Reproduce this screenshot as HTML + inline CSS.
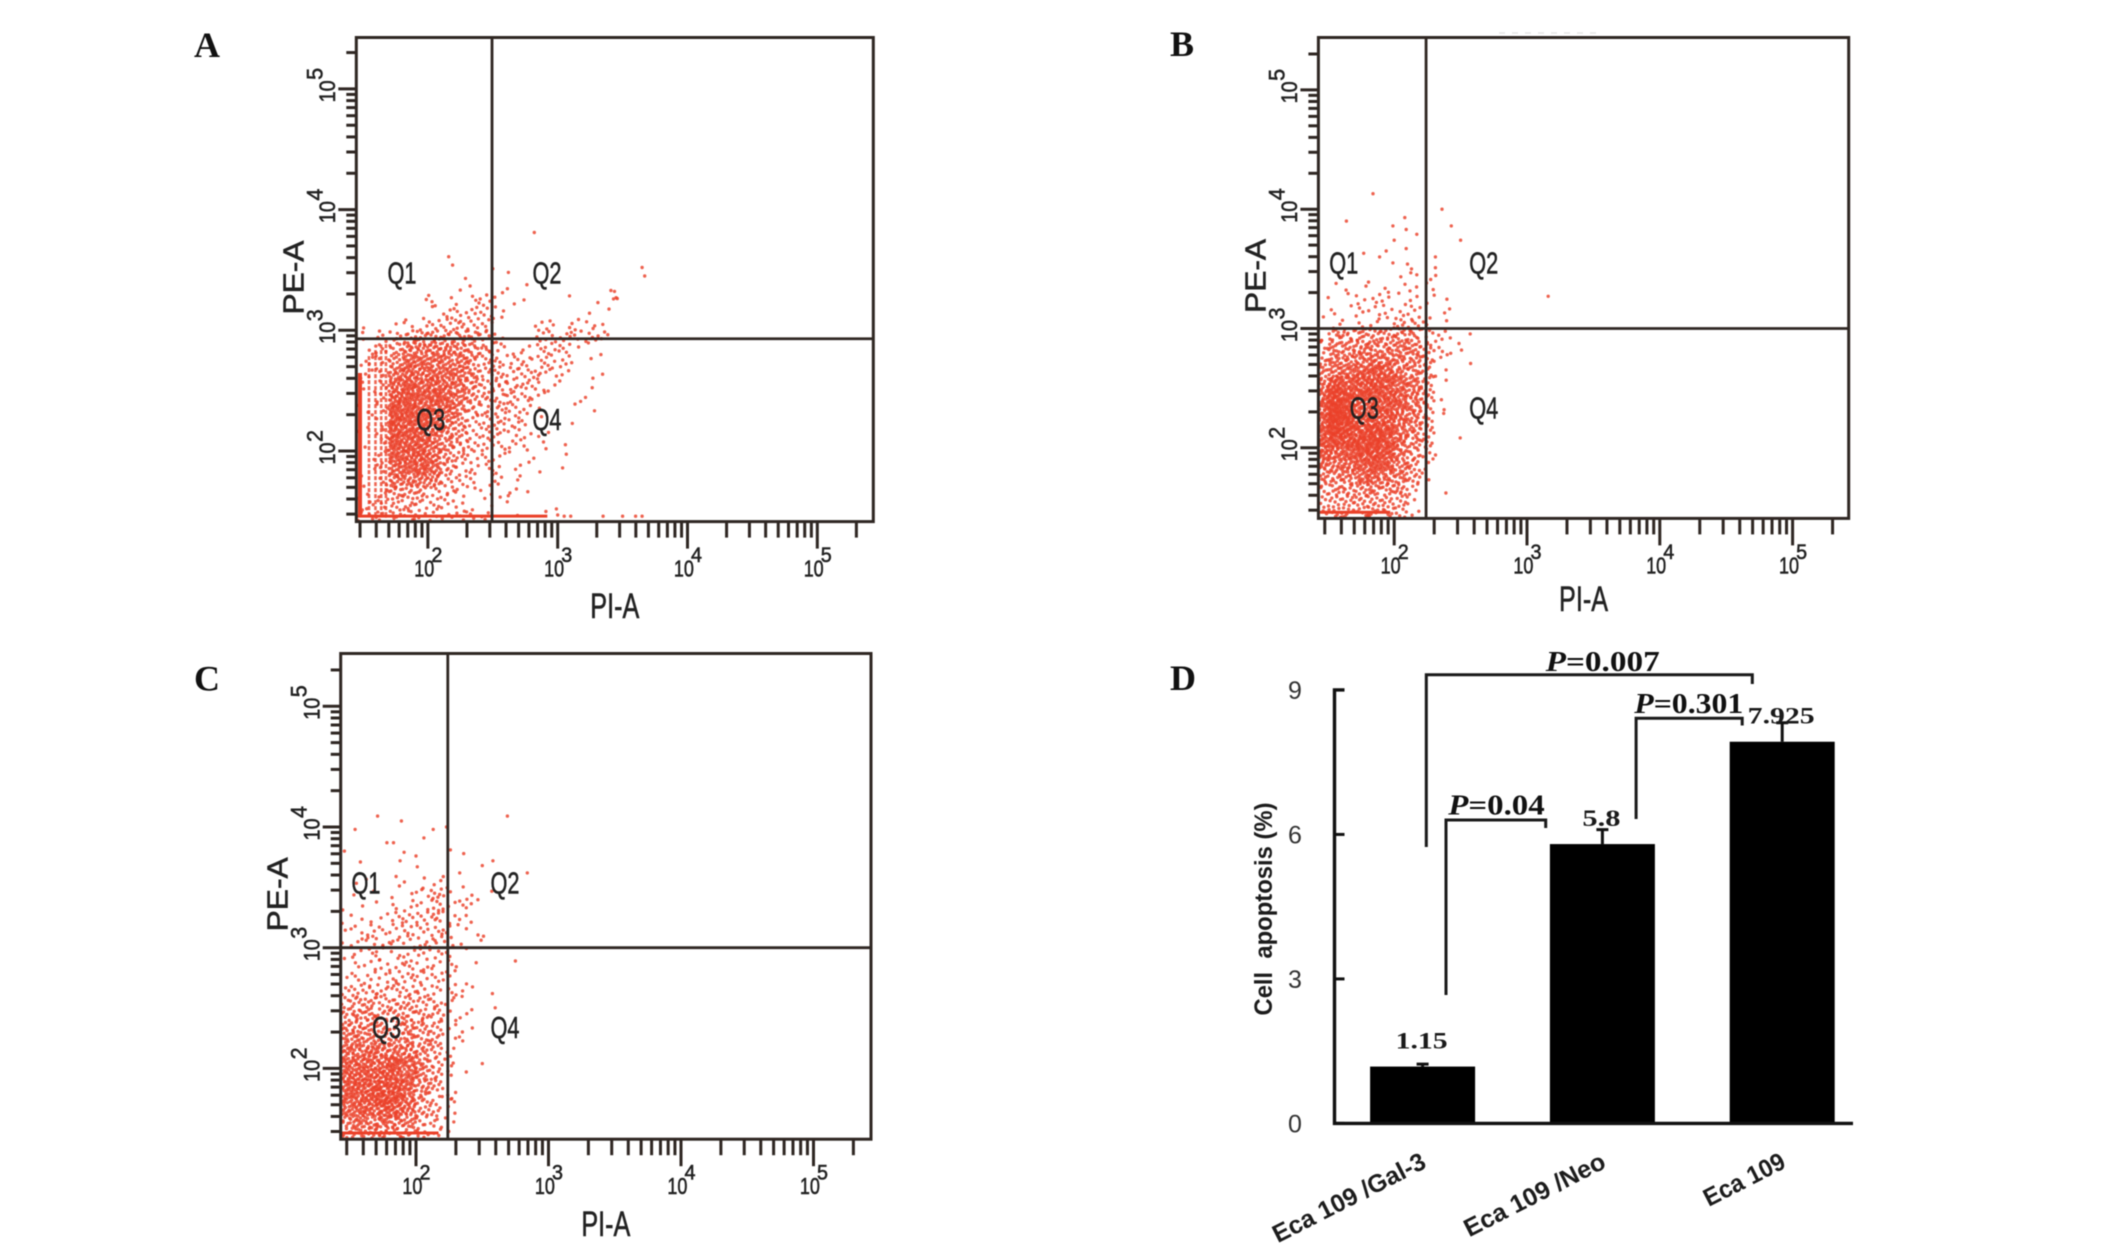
<!DOCTYPE html>
<html>
<head>
<meta charset="utf-8">
<title>Flow cytometry apoptosis panels</title>
<style>
html,body{margin:0;padding:0;background:#fff;}
svg{display:block;filter:blur(0.5px);}
text{font-family:"Liberation Sans",sans-serif;}
.serif{font-family:"Liberation Serif",serif;font-weight:bold;fill:#111;}
.ink{stroke:#222;stroke-width:0.55px;}
</style>
</head>
<body>
<svg id="figure" xmlns="http://www.w3.org/2000/svg" width="2126" height="1244" viewBox="0 0 2126 1244">
  <rect x="0" y="0" width="2126" height="1244" fill="#fff"/>
  <line x1="1499" x2="1598" y1="33" y2="33" stroke="#e6e6e6" stroke-width="1.5" stroke-dasharray="6 7"/>
  <text class="serif" x="207" y="57" font-size="36" text-anchor="middle">A</text>
  <text class="serif" x="1182" y="56" font-size="36" text-anchor="middle">B</text>
  <text class="serif" x="207" y="690.5" font-size="36" text-anchor="middle">C</text>
  <text class="serif" x="1183" y="690" font-size="36" text-anchor="middle">D</text>
  <g id="panels"></g>
  <g id="bars"></g>
  <g fill="none" stroke="#1a1a1a" stroke-width="3">
    <path d="M1426.3 847V674.7H1752.3V684"/>
    <path d="M1636.1 819V718.2H1742.2V725.5"/>
    <path d="M1446 995V820H1545.7V828"/>
  </g>
  <text class="serif" x="1545.7" y="671" font-size="29" textLength="114" lengthAdjust="spacingAndGlyphs"><tspan font-style="italic">P</tspan>=0.007</text>
  <text class="serif" x="1634.3" y="713.2" font-size="29" textLength="109" lengthAdjust="spacingAndGlyphs"><tspan font-style="italic">P</tspan>=0.301</text>
  <text class="serif" x="1448.3" y="814.5" font-size="29" textLength="96.4" lengthAdjust="spacingAndGlyphs"><tspan font-style="italic">P</tspan>=0.04</text>
</svg>
<script>
// ---- shared tick values for the log axes ----
const logTickValues = [30,40,50,60,70,80,90,100,200,300,400,500,600,700,800,900,1000,2000,3000,4000,5000,6000,7000,8000,9000,10000,20000,30000,40000,50000,60000,70000,80000,90000,100000,200000];
const decadeLabels = [2,3,4,5];
const quadrantNames = ['Q1','Q2','Q3','Q4'];

// ---- panel A: binned event counts (rows high to low PE-A, columns low to high PI-A) ----
const panelAGrid = [
[0,0,0,0,0,0,0,0,1,1,0,1,1,1,0,0,0,0,0,0,1,0,0],
[0,0,0,0,0,1,2,1,1,2,3,1,1,1,0,0,1,0,0,1,1,0,0],
[0,0,0,0,0,0,1,3,3,3,3,2,0,0,0,0,0,0,1,1,0,0,0],
[0,1,0,1,2,2,3,4,5,4,3,1,0,0,2,2,1,2,2,1,0,0,0],
[1,1,3,4,5,7,7,7,7,6,5,2,0,0,2,3,3,3,3,3,0,0,0],
[1,2,3,6,11,12,13,11,10,7,6,3,1,2,2,3,4,1,1,0,0,0,0],
[1,2,3,8,15,14,13,12,12,8,5,4,3,3,3,3,2,1,1,1,0,0,0],
[1,2,3,12,17,15,15,15,13,9,5,5,4,4,4,3,2,0,1,1,0,0,0],
[1,1,2,16,18,16,18,15,13,8,5,5,5,4,4,1,1,0,1,0,0,0,0],
[1,1,2,20,19,18,20,17,11,8,5,5,5,3,2,1,0,1,1,0,0,0,0],
[1,1,2,22,20,18,18,15,10,6,4,5,4,3,1,0,0,1,1,0,0,0,0],
[1,1,2,22,20,20,16,12,7,5,4,5,3,2,1,0,0,1,0,0,0,0,0],
[1,1,2,22,19,18,14,10,6,4,4,4,2,2,1,1,0,0,0,0,0,0,0],
[1,1,2,20,18,18,14,9,6,4,3,3,2,2,1,1,1,0,0,0,0,0,0],
[1,1,2,18,18,20,15,7,5,3,2,2,1,1,1,0,1,0,0,0,0,0,0],
[1,1,2,16,16,18,14,6,4,3,2,2,1,1,1,0,1,0,0,0,0,0,0],
[1,1,2,12,12,12,10,5,3,2,1,2,1,1,0,0,0,0,0,0,0,0,0],
[1,1,2,8,7,6,4,3,2,1,2,1,2,1,0,0,0,0,0,0,0,0,0],
[2,2,3,5,6,4,3,3,2,1,1,0,1,0,0,0,0,0,0,0,0,0,0],
[2,3,4,5,4,3,3,3,3,2,3,0,1,0,0,1,0,0,0,0,0,0,0]
];
const panelASparse = [[2.16,3.61],[2.82,3.81],[2.19,3.54],[2.5,3.51],[2.62,3.48],[2.29,3.43],[3.65,3.52],[3.67,3.45],[3.41,3.33],[3.45,3.27],[3.43,3.26],[3,1.47],[3.05,1.46],[3.1,1.46],[3.35,1.46],[3.5,1.46],[3.6,1.46],[3.65,1.46],[2.99,1.52]];
const panelAPile = [[1.45,2.92,1.46]];
const panelAStripes = [[1.477,1.46,2.646],[1.546,1.46,2.8],[1.596,1.46,2.85],[1.64,1.46,2.88],[1.677,1.46,2.9]];

// ---- panel B ----
const panelBGrid = [
[0,0,0,0,0,0,1,1,1,1,0,0],
[0,1,1,1,1,2,1,2,2,0,0,0],
[0,1,1,3,3,2,2,2,1,2,0,0],
[0,2,1,3,3,3,2,4,0,1,1,0],
[1,2,1,2,3,2,5,5,3,1,0,0],
[3,8,8,9,8,9,9,8,4,3,1,1],
[5,10,11,12,12,12,13,12,6,3,1,1],
[7,12,13,14,16,14,14,12,6,3,1,1],
[10,14,16,20,24,20,14,10,6,1,0,0],
[14,26,22,24,26,24,18,13,7,2,0,0],
[18,34,26,26,26,24,20,14,8,1,0,0],
[20,36,30,20,20,24,20,14,6,1,0,0],
[22,38,34,22,22,24,18,12,6,1,0,0],
[22,36,30,26,30,28,16,12,6,0,0,0],
[24,28,28,30,32,26,16,10,6,0,1,0],
[22,20,22,26,28,24,14,8,4,1,0,0],
[14,14,16,22,24,22,12,8,2,0,0,0],
[10,10,12,16,18,14,12,7,2,0,0,0],
[8,8,9,10,11,10,10,4,0,1,0,0],
[6,7,7,8,8,7,6,2,0,0,0,0],
[5,7,8,8,8,7,5,3,0,0,0,0]
];
const panelBSparse = [[1.84,4.13],[1.64,3.9],[2.08,3.93],[2.36,4],[1.99,3.86],[2.43,3.86],[2.09,3.83],[2.17,3.79],[2.5,3.74],[2,3.74],[2.09,3.67],[1.94,3.65],[1.89,3.6],[1.77,3.63],[1.99,3.55],[2.31,3.6],[2.1,3.54],[2.31,3.51],[3.16,3.27],[2.13,3.5],[2.17,3.45]];
const panelBPile = [[1.44,1.97,1.46]];
const panelBStripes = [];

// ---- panel C ----
const panelCGrid = [
[0,1,1,0,1,1,1,2,1,1,0,0],
[0,1,1,0,1,1,4,6,3,1,1,1],
[1,1,0,1,2,3,3,5,3,3,2,0],
[1,2,1,2,4,4,5,6,3,2,1,0],
[1,3,3,3,4,4,5,4,3,2,1,0],
[1,3,4,4,4,4,4,5,3,1,1,1],
[1,3,3,3,3,3,4,4,2,1,0,0],
[1,2,3,3,4,5,4,3,3,1,1,0],
[2,3,4,3,5,5,4,4,3,1,0,0],
[4,5,6,6,5,6,5,4,3,2,1,1],
[6,8,8,7,7,7,7,5,3,1,0,1],
[9,10,10,9,8,9,9,6,2,2,1,0],
[11,11,10,9,9,11,9,7,2,2,1,0],
[13,13,12,11,10,11,9,7,2,2,0,0],
[16,16,18,16,14,14,10,7,3,0,0,0],
[20,20,20,20,26,20,11,7,3,0,0,0],
[22,22,22,24,24,18,12,8,2,0,0,0],
[22,24,24,28,26,20,10,7,2,0,0,0],
[20,22,24,30,28,18,9,6,3,0,0,0],
[18,20,20,24,24,16,8,6,2,0,0,0],
[12,14,14,16,14,12,6,5,2,0,0,0],
[8,10,9,10,8,8,6,4,1,0,0,0]
];
const panelCSparse = [[1.71,4.09],[1.89,4.05],[1.54,3.98],[2.13,3.98],[2.23,4],[2.69,4.09],[2.06,3.91],[1.78,3.87],[1.83,3.87],[1.46,3.8],[2.26,3.81],[2.36,3.78],[1.91,3.79],[1.88,3.72],[2,3.76],[2.01,3.67],[1.58,3.71],[2.58,3.72],[2.5,3.68],[1.85,3.59],[2.84,3.62],[2.33,3.62],[2.75,2.89],[2.38,1.97],[2.5,2.04],[2.27,1.75]];
const panelCPile = [[1.44,2.17,1.465]];
const panelCStripes = [];

// ---- gates (log10 of the gate position) ----
const panelAGate = [2.494,2.93];
const panelBGate = [2.24,3.0];
const panelCGate = [2.24,3.0];

// ---- panel D bar chart ----
const barCategories = ['Eca 109 /Gal-3','Eca 109 /Neo','Eca 109'];
const barValues = [1.18,5.8,7.925];
const barErrorTops = [1.23,6.1,8.32];
const barValueLabels = ['1.15','5.8','7.925'];
const barYTicks = [0,3,6,9];

const NS = 'http://www.w3.org/2000/svg';
const DOT = '#ea4028';
const INK = '#2f2723';

function make(tag, attrs, parent) {
  const el = document.createElementNS(NS, tag);
  for (const k in attrs) el.setAttribute(k, attrs[k]);
  parent.appendChild(el);
  return el;
}
function halton(i, b) {
  let f = 1, r = 0;
  while (i > 0) { f /= b; r += f * (i % b); i = Math.floor(i / b); }
  return r;
}

function drawPanel(p) {
  const root = document.getElementById('panels');
  const g = make('g', {}, root);
  
  
  const sx = v => p.x2 + (v - 2) * p.xDec;
  const sy = v => p.y2 - (v - 2) * p.yDec;

  // events from binned counts
  const dots = make('g', {fill: DOT, 'fill-opacity': 0.82}, g);
  
  
  let seq = 1;
  const addDot = (lx, ly) => {
    const cx = sx(lx), cy = sy(ly);
    if (cx < p.left + 1 || cy > p.bottom - 1) return;
    const c = make('circle', {cx: cx.toFixed(1), cy: cy.toFixed(1), r: 1.7}, dots);
    
    
  };
  p.grid.forEach((row, r) => {
    const yStart = p.gridTop - r * 0.1;
    row.forEach((count, c) => {
      const xStart = 1.4 + c * 0.1;
      const n = Math.round(count * p.density);
      for (let k = 0; k < n; k++) {
        addDot(xStart + 0.1 * halton(seq, 2), yStart + 0.1 * halton(seq, 3));
        seq++;
      }
    });
  });
  p.sparse.forEach(pt => addDot(pt[0], pt[1]));

  // pile-up along the low edge of the axis
  p.pile.forEach(s => {
    const l = make('line', {x1: sx(s[0]), x2: sx(s[1]), y1: sy(s[2]), y2: sy(s[2]), stroke: DOT, 'stroke-width': 3}, g);
    
    
  });
  // discretised low channels
  p.stripes.forEach((s, i) => {
    const l = make('line', {x1: sx(s[0]), x2: sx(s[0]), y1: sy(s[1]), y2: sy(s[2]), stroke: DOT, 'stroke-width': i === 0 ? 4 : 2.6, 'stroke-opacity': i === 0 ? 1 : 0.8, 'stroke-dasharray': i === 0 ? 'none' : '4 2'}, g);
    
    
  });

  // ticks
  logTickValues.forEach(v => {
    const lg = Math.log10(v), major = Number.isInteger(lg);
    const x = sx(lg);
    const t = make('line', {x1: x, x2: x, y1: p.bottom, y2: p.bottom + (major ? 27 : 16), stroke: INK, 'stroke-width': 3}, g);
    
    
    const y = sy(lg);
    const u = make('line', {x1: p.left, x2: p.left - (major ? 18 : 10), y1: y, y2: y, stroke: INK, 'stroke-width': 3}, g);
    
    
  });
  // decade labels
  decadeLabels.forEach(d => {
    const x = sx(d), y = sy(d);
    const a = make('text', {class: 'ink', x: x - 3.6, y: p.bottom + 55, 'font-size': 23, 'text-anchor': 'middle', fill: '#222', textLength: 20, lengthAdjust: 'spacingAndGlyphs'}, g);
    a.textContent = '10';
    
    
    const b = make('text', {class: 'ink', x: x + 9, y: p.bottom + 40.5, 'font-size': 21, 'text-anchor': 'middle', fill: '#222', textLength: 11, lengthAdjust: 'spacingAndGlyphs'}, g);
    b.textContent = String(d);
    
    
    const e = make('text', {class: 'ink', transform: 'translate(' + (p.left - 21.3) + ',' + (y + 2.5) + ') rotate(-90)', 'font-size': 22, 'text-anchor': 'middle', fill: '#222', textLength: 22, lengthAdjust: 'spacingAndGlyphs'}, g);
    e.textContent = '10';
    
    
    const f = make('text', {class: 'ink', transform: 'translate(' + (p.left - 34) + ',' + (y - 15) + ') rotate(-90)', 'font-size': 22, 'text-anchor': 'middle', fill: '#222', textLength: 12, lengthAdjust: 'spacingAndGlyphs'}, g);
    f.textContent = String(d);
    
    
  });

  // frame and gates
  const frame = make('rect', {x: p.left, y: p.top, width: p.right - p.left, height: p.bottom - p.top, fill: 'none', stroke: INK, 'stroke-width': 3}, g);
  
  
  const gv = make('line', {x1: sx(p.gate[0]), x2: sx(p.gate[0]), y1: p.top, y2: p.bottom, stroke: INK, 'stroke-width': 2.8}, g);
  
  
  const gh = make('line', {x1: p.left, x2: p.right, y1: sy(p.gate[1]), y2: sy(p.gate[1]), stroke: INK, 'stroke-width': 2.8}, g);
  
  

  // quadrant names
  quadrantNames.forEach((q, i) => {
    const xs = i === 2 ? p.q3x : (i % 2 === 0 ? p.q1x : p.q2x);
    const ys = i < 2 ? p.qTop : p.qLow;
    const t = make('text', {class: 'ink', x: xs, y: ys + 11, 'font-size': 31, 'text-anchor': 'middle', fill: '#222', textLength: 29, lengthAdjust: 'spacingAndGlyphs'}, g);
    t.textContent = q;
    
    
  });

  // axis titles
  const xt = make('text', {class: 'ink', x: (p.left + p.right) / 2, y: p.bottom + p.xTitleDy, 'font-size': 35, 'text-anchor': 'middle', fill: '#222', textLength: 49, lengthAdjust: 'spacingAndGlyphs'}, g);
  xt.textContent = 'PI-A';
  
  
  const yt = make('text', {class: 'ink', transform: 'translate(' + (p.left - 53) + ',' + ((p.top + p.bottom) / 2 - 2) + ') rotate(-90)', 'font-size': 29, 'text-anchor': 'middle', fill: '#222', textLength: 74, lengthAdjust: 'spacingAndGlyphs'}, g);
  yt.textContent = 'PE-A';
  
  
}

drawPanel({id:'a', left:356.3, right:873.3, top:37.5, bottom:521.6, x2:427.9, xDec:129.8, y2:451, yDec:120.7, density:1.25,
  grid:panelAGrid, gridTop:3.3, sparse:panelASparse, pile:panelAPile, stripes:panelAStripes, gate:panelAGate,
  q1x:402, q2x:547, q3x:430.7, qTop:272.7, qLow:419, xTitleDy:96.4});
drawPanel({id:'b', left:1318.4, right:1848.7, top:37.5, bottom:518.4, x2:1394.2, xDec:132.8, y2:447.8, yDec:119.3, density:1.1,
  grid:panelBGrid, gridTop:3.4, sparse:panelBSparse, pile:panelBPile, stripes:panelBStripes, gate:panelBGate,
  q1x:1343.7, q2x:1483.7, q3x:1364.3, qTop:262.4, qLow:407.3, xTitleDy:92.6});
drawPanel({id:'c', left:340.7, right:871, top:653.5, bottom:1139.2, x2:416, xDec:132.5, y2:1068.4, yDec:120.7, density:1.05,
  grid:panelCGrid, gridTop:3.5, sparse:panelCSparse, pile:panelCPile, stripes:panelCStripes, gate:panelCGate,
  q1x:366, q2x:505, q3x:386.6, qTop:882.7, qLow:1027, xTitleDy:97});

// ---- bar chart ----
(function () {
  const g = document.getElementById('bars');
  const y0 = 1123.4, pxPerUnit = 48.16, axisX = 1334.5, axisEnd = 1853;
  const by = v => y0 - v * pxPerUnit;
  const bandCenter = i => 1422.6 + i * 179.8;
  const barWidth = 105;
  const catLengths = [168, 155, 88];

  barValues.forEach((v, i) => {
    const cx = bandCenter(i);
    const e = make('path', {d: 'M' + cx + ' ' + by(v) + 'V' + by(barErrorTops[i]) + 'M' + (cx - 6) + ' ' + by(barErrorTops[i]) + 'H' + (cx + 6), stroke: '#111', 'stroke-width': 3, fill: 'none'}, g);
    
    
    const r = make('rect', {x: cx - barWidth / 2, y: by(v), width: barWidth, height: y0 - by(v), fill: '#000'}, g);
    
    
    const t = make('text', {x: cx - 1, y: by(v) - 18, 'font-size': 23, 'text-anchor': 'middle', fill: '#1a1a1a', 'font-weight': 'bold', style: 'font-family:"Liberation Serif",serif', textLength: [52, 38, 67][i], lengthAdjust: 'spacingAndGlyphs'}, g);
    t.textContent = barValueLabels[i];
    
    
    const c = make('text', {transform: 'translate(' + (cx + 5) + ',1167) rotate(-27)', 'font-size': 25, 'text-anchor': 'end', fill: '#1c1c1c', 'font-weight': 'bold', textLength: catLengths[i], lengthAdjust: 'spacingAndGlyphs'}, g);
    c.textContent = barCategories[i];
    
    
  });

  const axis = make('path', {d: 'M' + (axisX + 10) + ' ' + by(9) + 'H' + axisX + 'V' + y0 + 'H' + axisEnd, stroke: '#111', 'stroke-width': 3.4, fill: 'none'}, g);
  
  

  barYTicks.forEach(v => {
    const t = make('line', {x1: axisX, x2: axisX + 10, y1: by(v), y2: by(v), stroke: '#111', 'stroke-width': 3}, g);
    
    
    const l = make('text', {x: 1295, y: by(v) + 9, 'font-size': 25, 'text-anchor': 'middle', fill: '#333'}, g);
    l.textContent = String(v);
    
    
  });

  const title = make('text', {transform: 'translate(1272,909) rotate(-90)', 'font-size': 25, 'text-anchor': 'middle', fill: '#1c1c1c', 'font-weight': 'bold', textLength: 213, lengthAdjust: 'spacingAndGlyphs', style: 'white-space:pre'}, g);
  title.textContent = 'Cell  apoptosis (%)';
  
  
})();
</script>
</body>
</html>
